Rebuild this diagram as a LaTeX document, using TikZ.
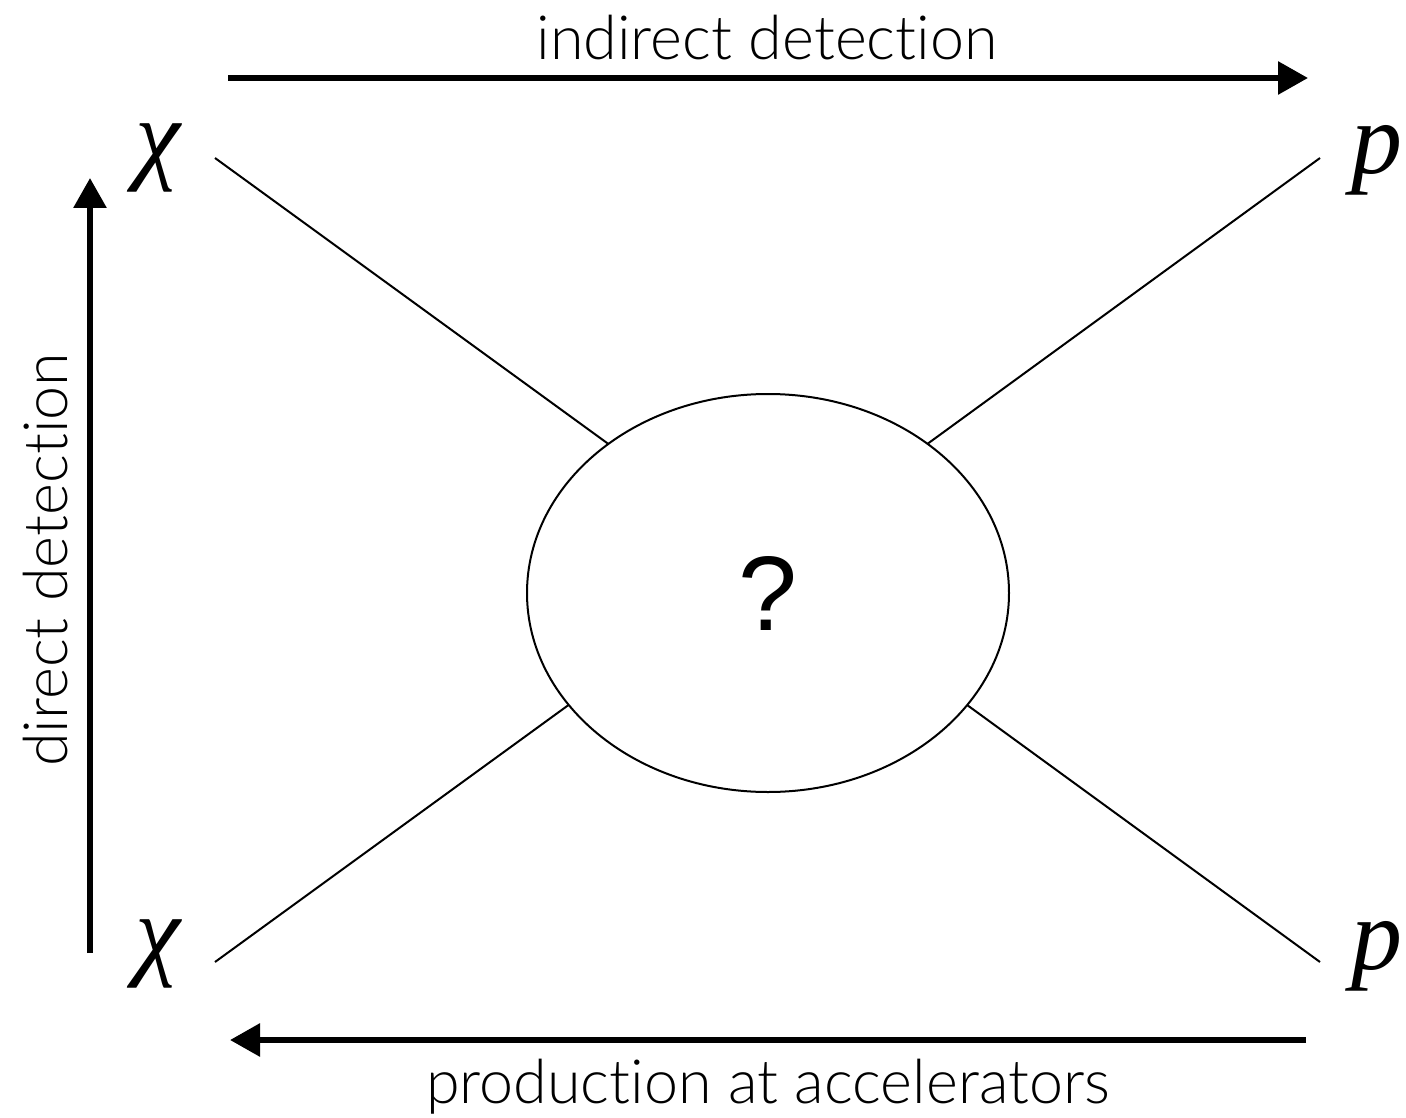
\documentclass[tikz,border=0pt]{standalone}
\usepackage{fontspec}
\setsansfont{Lato Light}[RawFeature=-liga]
\newfontfamily\timesit{Liberation Serif}
\newfontfamily\helv{Liberation Sans}
\usepackage{tikz}
\usetikzlibrary{calc, positioning, arrows.meta, shapes.geometric}
\tikzset{
    channels/.style={
        x=1pt, y=-1pt,
        font=\sffamily,
        bigarrow/.style={line width=6pt, -{Triangle[length=30pt, width=32pt]}},
        leg/.style={line width=2pt},
        blob/.style={draw, ellipse, line width=2pt, fill=white, minimum width=482pt, minimum height=398pt, inner sep=0pt, font=\helv\fontsize{106}{106}\selectfont},
        particle/.style={inner sep=0pt, font=\timesit\itshape\fontsize{102}{102}\selectfont},
        label_text/.style={inner sep=0pt, font=\sffamily\fontsize{61}{61}\selectfont}
    }
}
\begin{document}
\begin{tikzpicture}[channels]
        \useasboundingbox (0,0) rectangle (1406,1118);

        % External legs
        \node[particle] (chitop) at (158,158) {χ};
        \node[particle] (chibot) at (158,954) {χ};
        \node[particle] (ptop) at (1377,160) {p};
        \node[particle] (pbot) at (1377,956) {p};
        \coordinate (tl) at (215,158);
        \coordinate (bl) at (215,962);
        \coordinate (tr) at (1320,158);
        \coordinate (br) at (1320,962);
        \coordinate (cross) at (768,560);
        \draw[leg] (tl) -- (cross);
        \draw[leg] (bl) -- (cross);
        \draw[leg] (tr) -- (cross);
        \draw[leg] (br) -- (cross);

        % Unknown interaction
        \node[blob] (vertex) at (768,593) {?};

        % Indirect detection
        \coordinate (idstart) at (228,78);
        \coordinate (idend) at (1308,78);
        \draw[bigarrow] (idstart) -- (idend);
        \node[label_text, anchor=base] (idlabel) at (767,60) {indirect detection};

        % Direct detection
        \coordinate (ddstart) at (90,953);
        \coordinate (ddend) at (90,178);
        \draw[bigarrow] (ddstart) -- (ddend);
        \node[label_text, anchor=base, rotate=90] (ddlabel) at (67,560) {direct detection};

        % Production at accelerators
        \coordinate (pastart) at (1306,1040);
        \coordinate (paend) at (230,1040);
        \draw[bigarrow] (pastart) -- (paend);
        \node[label_text, anchor=base] (palabel) at (768,1103) {production at accelerators};

    \end{tikzpicture}
\end{document}
